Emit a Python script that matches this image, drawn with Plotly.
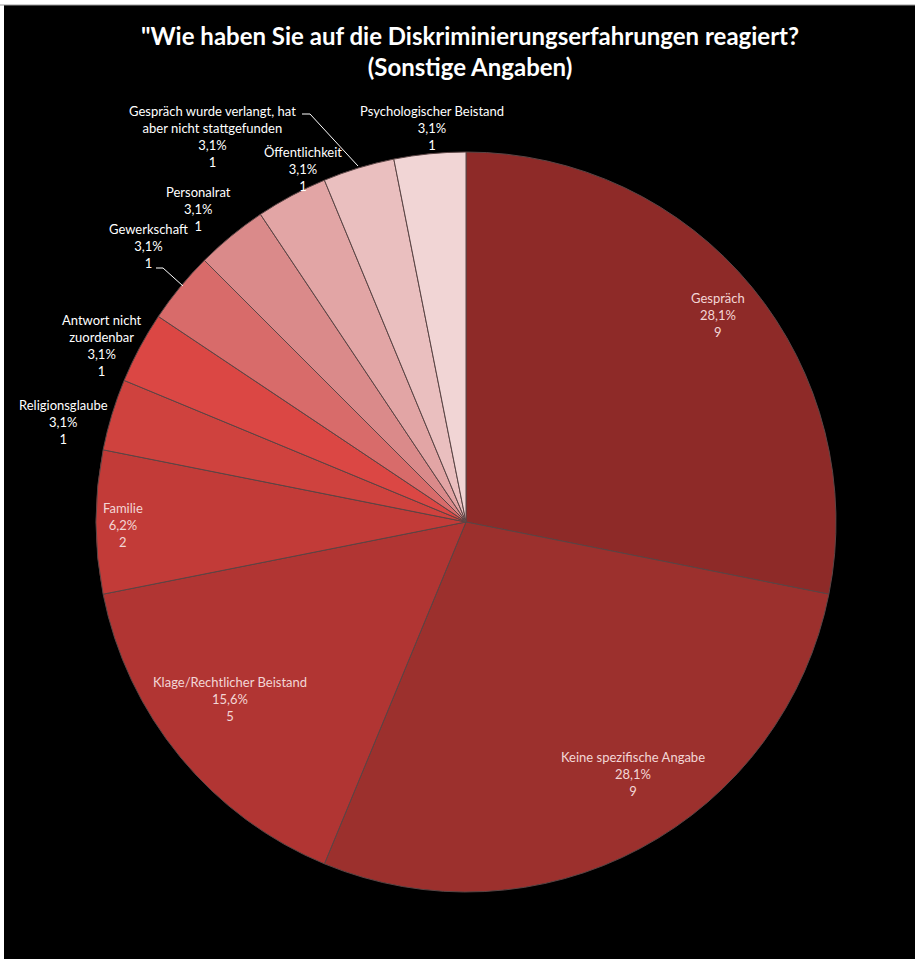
import plotly.graph_objects as go

# ---- data ----
labels = [
    "Gespräch",
    "Keine spezifische Angabe",
    "Klage/Rechtlicher Beistand",
    "Familie",
    "Religionsglaube",
    "Antwort nicht<br>zuordenbar",
    "Gewerkschaft",
    "Personalrat",
    "Öffentlichkeit",
    "Gespräch wurde verlangt, hat<br>aber nicht stattgefunden",
    "Psychologischer Beistand",
]
values = [9, 9, 5, 2, 1, 1, 1, 1, 1, 1, 1]
percent_labels = ["28,1%", "28,1%", "15,6%", "6,2%", "3,1%", "3,1%",
                  "3,1%", "3,1%", "3,1%", "3,1%", "3,1%"]
colors = ["#8e2a28", "#9c302d", "#b13533", "#c23b38", "#cf423e", "#db4744",
          "#d86b6a", "#da8a8a", "#e2a5a5", "#eabfbf", "#f1d5d5"]
title_lines = ["\"Wie haben Sie auf die Diskriminierungserfahrungen reagiert?",
               "(Sonstige Angaben)"]

# label placement (pixel centres of first line) and colours
label_pos = [(718, 298), (633, 757), (230, 682), (123, 508), (63, 405), (102, 320),
             (148, 229), (198, 192), (303, 152), (212, 111), (432, 111)]
inside = [True, True, True, True, False, False, False, False, False, False, False]

W, H = 915, 959
cx, cy, R = 466, 522, 370

fig = go.Figure(go.Pie(
    labels=labels, values=values, sort=False, direction="clockwise", rotation=0,
    marker=dict(colors=colors, line=dict(color="#5b4545", width=1)),
    textinfo="none", hoverinfo="label+value+percent", showlegend=False,
    domain=dict(x=[(cx - R) / W, (cx + R) / W], y=[(H - cy - R) / H, (H - cy + R) / H]),
))

ann = []
for lab, v, pct, (px, py), ins in zip(labels, values, percent_labels, label_pos, inside):
    txt = f"{lab}<br>{pct}<br>{v}"
    ann.append(dict(
        x=px / W, y=1 - (py - 10) / H, xref="paper", yref="paper",
        xanchor="center", yanchor="top", text=txt, showarrow=False,
        font=dict(family="Lato", size=13, color="#f3d6d6" if ins else "#ffffff"),
        align="center",
    ))

ann.append(dict(x=470 / W, y=1 - 19 / H, xref="paper", yref="paper", xanchor="center",
                yanchor="top", showarrow=False,
                text="<b>" + title_lines[0] + "<br>" + title_lines[1] + "</b>",
                font=dict(family="Lato", size=24, color="#ffffff"), align="center"))

shapes = [
    dict(type="rect", xref="paper", yref="paper", x0=0, x1=1, y0=1 - 5 / H, y1=1,
         fillcolor="#ffffff", line=dict(width=0)),
    dict(type="rect", xref="paper", yref="paper", x0=0, x1=4 / W, y0=0, y1=1,
         fillcolor="#ffffff", line=dict(width=0)),
    dict(type="line", xref="paper", yref="paper", x0=0, x1=1, y0=1 - 5 / H, y1=1 - 5 / H,
         line=dict(color="#999999", width=1)),
    # leader lines
    dict(type="path", xref="paper", yref="paper",
         path=f"M {302/W},{1-114/H} L {310/W},{1-114/H} L {358/W},{1-166/H}",
         line=dict(color="#ffffff", width=1)),
    dict(type="path", xref="paper", yref="paper",
         path=f"M {156/W},{1-268/H} L {163/W},{1-268/H} L {183/W},{1-286/H}",
         line=dict(color="#ffffff", width=1)),
]

fig.update_layout(
    width=W, height=H, margin=dict(l=0, r=0, t=0, b=0),
    paper_bgcolor="#000000", plot_bgcolor="#000000",
    annotations=ann, shapes=shapes,
)
fig.write_html("out.html")
